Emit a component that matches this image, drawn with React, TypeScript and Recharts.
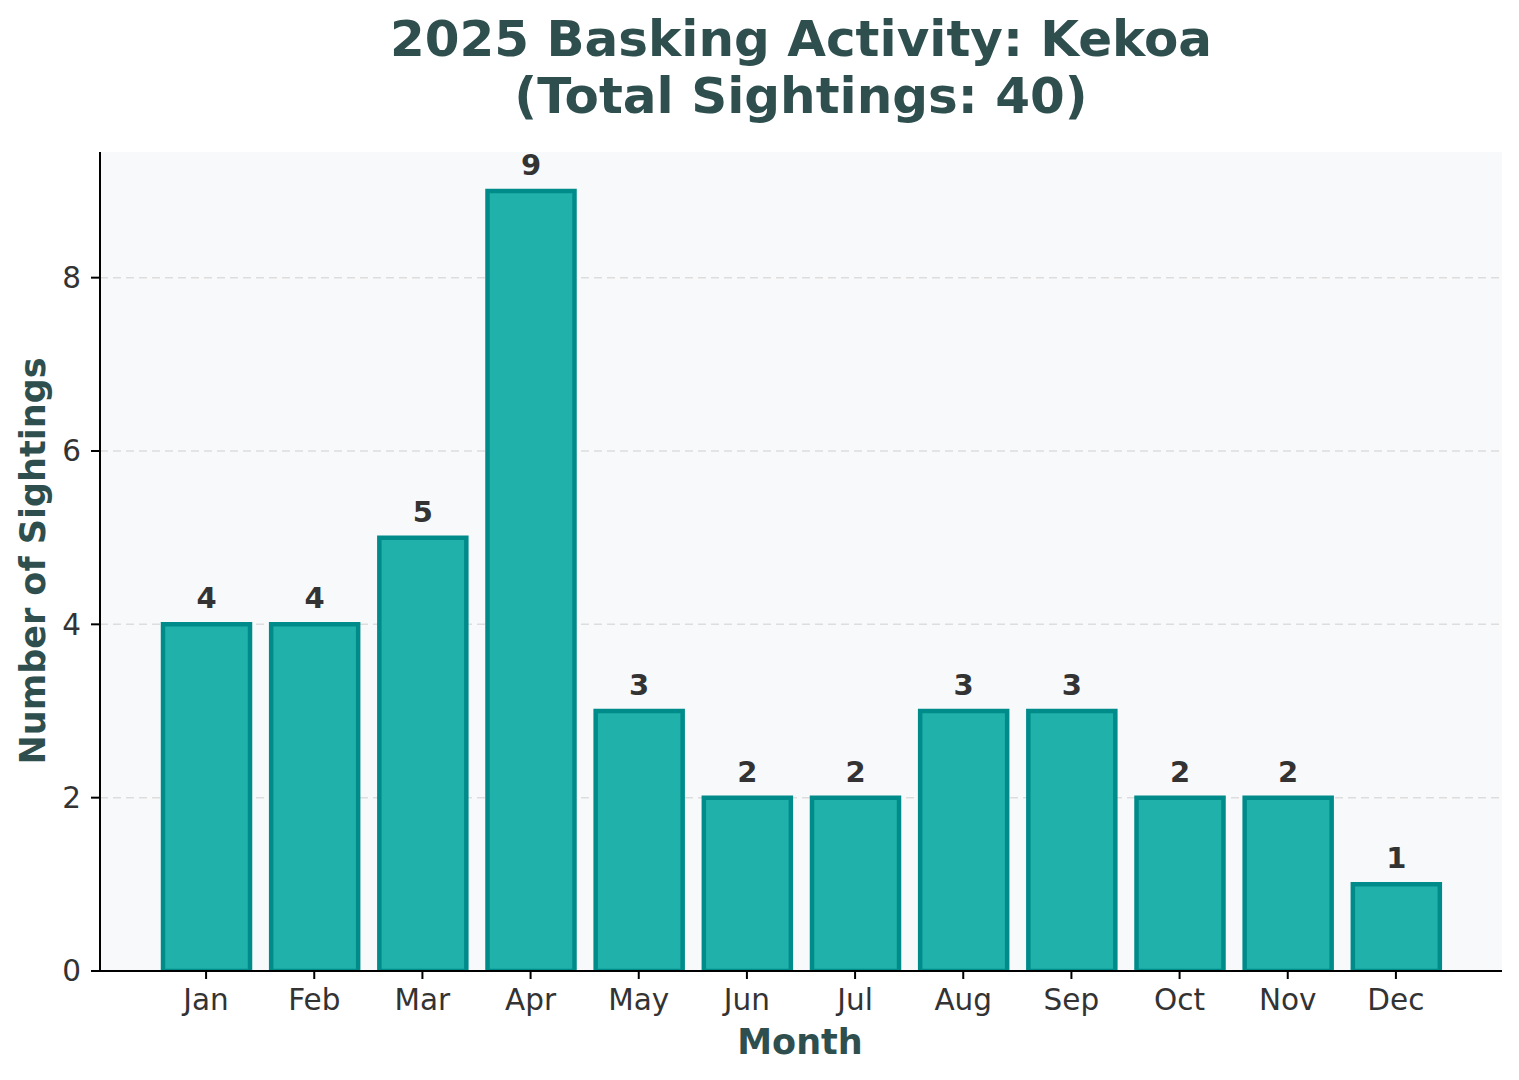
import { BarChart, Bar, XAxis, YAxis, CartesianGrid, LabelList } from "recharts";

const months = ["Jan", "Feb", "Mar", "Apr", "May", "Jun", "Jul", "Aug", "Sep", "Oct", "Nov", "Dec"];
const sightings = [4, 4, 5, 9, 3, 2, 2, 3, 3, 2, 2, 1];
const yTicks = [0, 2, 4, 6, 8];
const gridValues = [2, 4, 6, 8];

const data = months.map((m, i) => ({ month: m, count: sightings[i] }));

const FONT = "'DejaVu Sans', sans-serif";
const TITLE_COLOR = "#2F4F4F";

export default function App() {
  return (
    <div style={{ position: "absolute", left: 0, top: 0, width: 1519, height: 1080, background: "#fff", fontFamily: FONT }}>
      {/* title */}
      <div
        style={{
          position: "absolute",
          left: 0,
          width: 1602,
          top: 11,
          textAlign: "center",
          fontWeight: "bold",
          fontSize: 50,
          lineHeight: "57px",
          color: TITLE_COLOR
        }}
      >
        2025 Basking Activity: Kekoa
        <br />
        (Total Sightings: 40)
      </div>

      {/* y label */}
      <div
        style={{
          position: "absolute",
          left: 33,
          top: 561,
          transform: "translate(-50%, -50%) rotate(-90deg)",
          whiteSpace: "nowrap",
          fontWeight: "bold",
          fontSize: 35,
          color: TITLE_COLOR
        }}
      >
        Number of Sightings
      </div>

      {/* x label */}
      <div
        style={{
          position: "absolute",
          left: 800,
          top: 1042,
          transform: "translate(-50%, -50%)",
          whiteSpace: "nowrap",
          fontWeight: "bold",
          fontSize: 35,
          color: TITLE_COLOR
        }}
      >
        Month
      </div>

      <BarChart
        width={1519}
        height={1080}
        data={data}
        margin={{ top: 152, right: 17, bottom: 49, left: 0 }}
        style={{ position: "absolute", left: 0, top: 0 }}
      >
        <CartesianGrid
          vertical={false}
          horizontalValues={gridValues}
          fill="#F8F9FA"
          fillOpacity={1}
          stroke="#DDDDDD"
          strokeDasharray="8 5"
          strokeWidth={1.5}
        />
        <XAxis
          dataKey="month"
          height={60}
          padding={{ left: 52, right: 52 }}
          axisLine={{ stroke: "#000", strokeWidth: 2 }}
          tickLine={{ stroke: "#000", strokeWidth: 2 }}
          tickSize={8}
          tickMargin={10}
          tick={{ fill: "#333", fontSize: 29.5, fontFamily: FONT }}
        />
        <YAxis
          width={100}
          domain={[0, 9.45]}
          ticks={yTicks}
          allowDataOverflow
          axisLine={{ stroke: "#000", strokeWidth: 2 }}
          tickLine={{ stroke: "#000", strokeWidth: 2 }}
          tickSize={9}
          tickMargin={10}
          tick={{ fill: "#333", fontSize: 29.5, fontFamily: FONT }}
        />
        <Bar
          dataKey="count"
          fill="#20B2AA"
          stroke="#008B8B"
          strokeWidth={4.5}
          barSize={87}
          isAnimationActive={false}
        >
          <LabelList
            dataKey="count"
            position="top"
            offset={16}
            fill="#333"
            fontSize={29}
            fontWeight="bold"
            fontFamily={FONT}
          />
        </Bar>
      </BarChart>
    </div>
  );
}
